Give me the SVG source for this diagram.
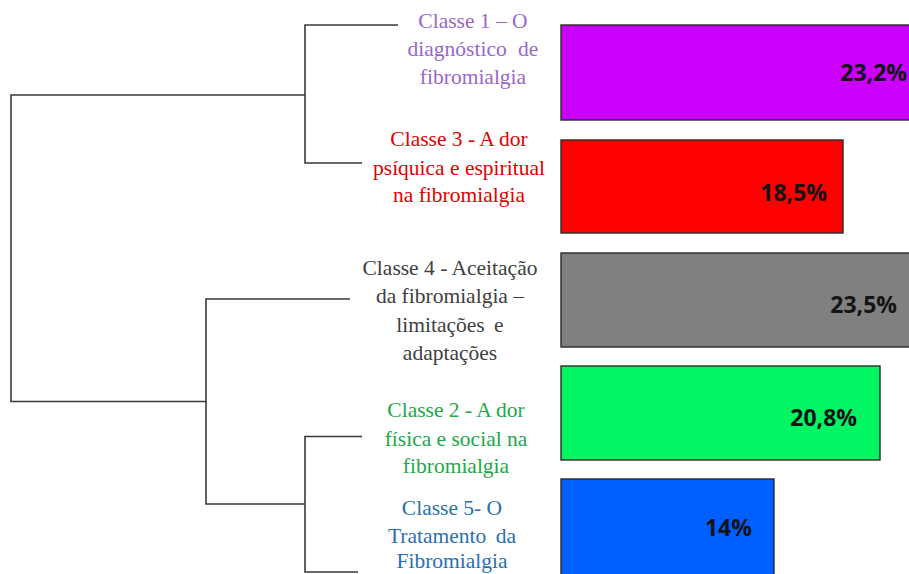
<svg xmlns="http://www.w3.org/2000/svg" width="909" height="574" viewBox="0 0 909 574">
<style>
.ln{fill:none;stroke:#3a3a3a;stroke-width:1.6}
.bar{stroke:#2a2a2a;stroke-width:1.4}
.pct{font-family:"Open Sans","Noto Sans",sans-serif;font-weight:bold;font-size:23px;fill:#141414;text-anchor:end}
.lbl{font-family:"Liberation Serif","Times New Roman",Times,Tinos,"Noto Serif","DejaVu Serif",serif;font-size:21.5px;text-anchor:middle}
</style>
<rect width="909" height="574" fill="#ffffff"/>
<g id="connectors">
<path class="ln" d="M305,95 H11 V401.5 H206"/>
<path class="ln" d="M398,25 H305 V163 H362"/>
<path class="ln" d="M350,299 H206 V504 H305"/>
<path class="ln" d="M362,436.5 H305 V572 H358"/>
</g>
<g id="classe1">
<rect class="bar" x="561" y="25" width="360" height="95" fill="#cc00ff"/>
<text class="pct" x="907" y="81">23,2%</text>
<text class="lbl" fill="#9a66cc"><tspan x="473" y="28">Classe 1 – O</tspan><tspan x="473" y="56" word-spacing="6">diagnóstico de</tspan><tspan x="473" y="84">fibromialgia</tspan></text>
</g>
<g id="classe3">
<rect class="bar" x="561" y="140" width="282" height="93" fill="#ff0000"/>
<text class="pct" x="827" y="201">18,5%</text>
<text class="lbl" fill="#e00000"><tspan x="459" y="146">Classe 3 - A dor</tspan><tspan x="459" y="175">psíquica e espiritual</tspan><tspan x="459" y="202">na fibromialgia</tspan></text>
</g>
<g id="classe4">
<rect class="bar" x="561" y="253" width="360" height="94" fill="#808080"/>
<text class="pct" x="897" y="313">23,5%</text>
<text class="lbl" fill="#404040"><tspan x="450" y="275">Classe 4 - Aceitação</tspan><tspan x="450" y="303">da fibromialgia –</tspan><tspan x="450" y="332" word-spacing="4">limitações e</tspan><tspan x="450" y="360">adaptações</tspan></text>
</g>
<g id="classe2">
<rect class="bar" x="561" y="366" width="319" height="94" fill="#00f763"/>
<text class="pct" x="857" y="426">20,8%</text>
<text class="lbl" fill="#22a84a"><tspan x="456" y="417">Classe 2 - A dor</tspan><tspan x="456" y="446">física e social na</tspan><tspan x="456" y="473">fibromialgia</tspan></text>
</g>
<g id="classe5">
<rect class="bar" x="561" y="479" width="213" height="110" fill="#0060ff"/>
<text class="pct" x="752" y="536">14%</text>
<text class="lbl" fill="#2a6fb0"><tspan x="452" y="515">Classe 5- O</tspan><tspan x="452" y="543" word-spacing="4">Tratamento da</tspan><tspan x="452" y="568">Fibromialgia</tspan></text>
</g>
</svg>
